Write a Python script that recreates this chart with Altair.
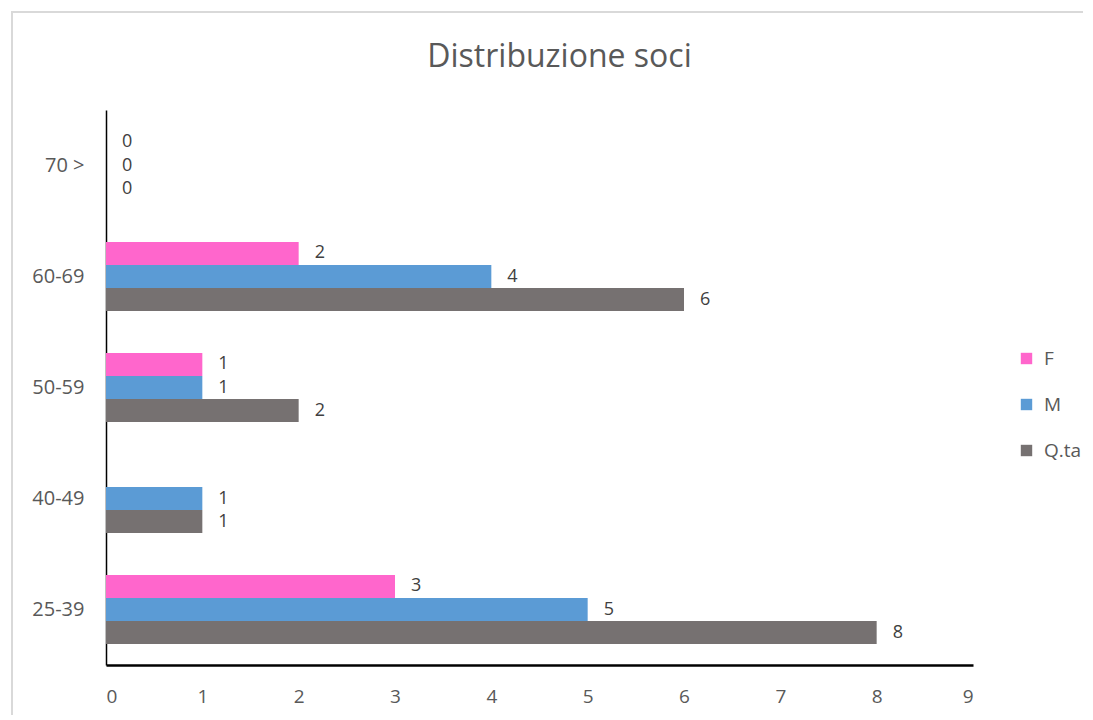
import altair as alt
import pandas as pd

categories = ["70 >", "60-69", "50-59", "40-49", "25-39"]
series = ["F", "M", "Q.ta"]
f_vals = [0, 2, 1, None, 3]
m_vals = [0, 4, 1, 1, 5]
q_vals = [0, 6, 2, 1, 8]
colors = ["#ff66cc", "#5b9bd5", "#767171"]

rows = []
for i, c in enumerate(categories):
    for s, vals in zip(series, [f_vals, m_vals, q_vals]):
        rows.append({"cat": c, "serie": s, "value": vals[i]})
df = pd.DataFrame(rows)

FONT = "Open Sans"

y_enc = alt.Y("cat:N", sort=categories, title=None,
              scale=alt.Scale(paddingInner=0.378, paddingOuter=0.189),
              axis=alt.Axis(domainColor="#000000", domainWidth=1.5, ticks=False,
                            labelFontSize=20, labelColor="#595959", labelFont=FONT,
                            labelPadding=22))
yoff = alt.YOffset("serie:N", sort=series, scale=alt.Scale(paddingInner=0, paddingOuter=0))

bars = alt.Chart(df).mark_bar().encode(
    x=alt.X("value:Q", title=None, scale=alt.Scale(domain=[0, 9], nice=False),
            axis=alt.Axis(values=list(range(10)), format="d", grid=False, ticks=False,
                          domainColor="#000000", domainWidth=2.5,
                          labelFontSize=19, labelColor="#595959", labelFont=FONT,
                          labelPadding=22)),
    y=y_enc,
    yOffset=yoff,
    color=alt.Color("serie:N", sort=series,
                    scale=alt.Scale(domain=series, range=colors),
                    legend=alt.Legend(title=None, orient="none", legendX=911, legendY=239,
                                      symbolType="square", symbolSize=130,
                                      symbolStrokeWidth=0,
                                      labelFontSize=19, labelColor="#595959",
                                      labelFont=FONT, rowPadding=26, labelOffset=8)),
)

labels = alt.Chart(df).transform_filter("isValid(datum.value)").mark_text(
    align="left", baseline="middle", dx=16, fontSize=18, color="#404040", font=FONT
).encode(
    x="value:Q",
    y=alt.Y("cat:N", sort=categories),
    yOffset=yoff,
    text=alt.Text("value:Q", format="d"),
)

border = alt.Chart(pd.DataFrame({"a": [0]})).mark_rect(
    fillOpacity=0, stroke="#d9d9d9", strokeWidth=2
).encode(x=alt.value(-94), x2=alt.value(1000), y=alt.value(-98), y2=alt.value(640))

chart = alt.layer(border, bars, labels).properties(
    width=867, height=555,
    background="white",
    title=alt.TitleParams("Distribuzione soci", fontSize=32, font=FONT,
                          color="#595959", fontWeight="normal", frame="group",
                          anchor="middle", dx=20, offset=-95, baseline="bottom"),
    padding={"left": 98, "top": 102, "right": 110, "bottom": 50},
    autosize=alt.AutoSizeParams(type="none"),
).configure_view(stroke=None)

chart.save("out.html", embed_options={"renderer": "svg", "actions": False})
